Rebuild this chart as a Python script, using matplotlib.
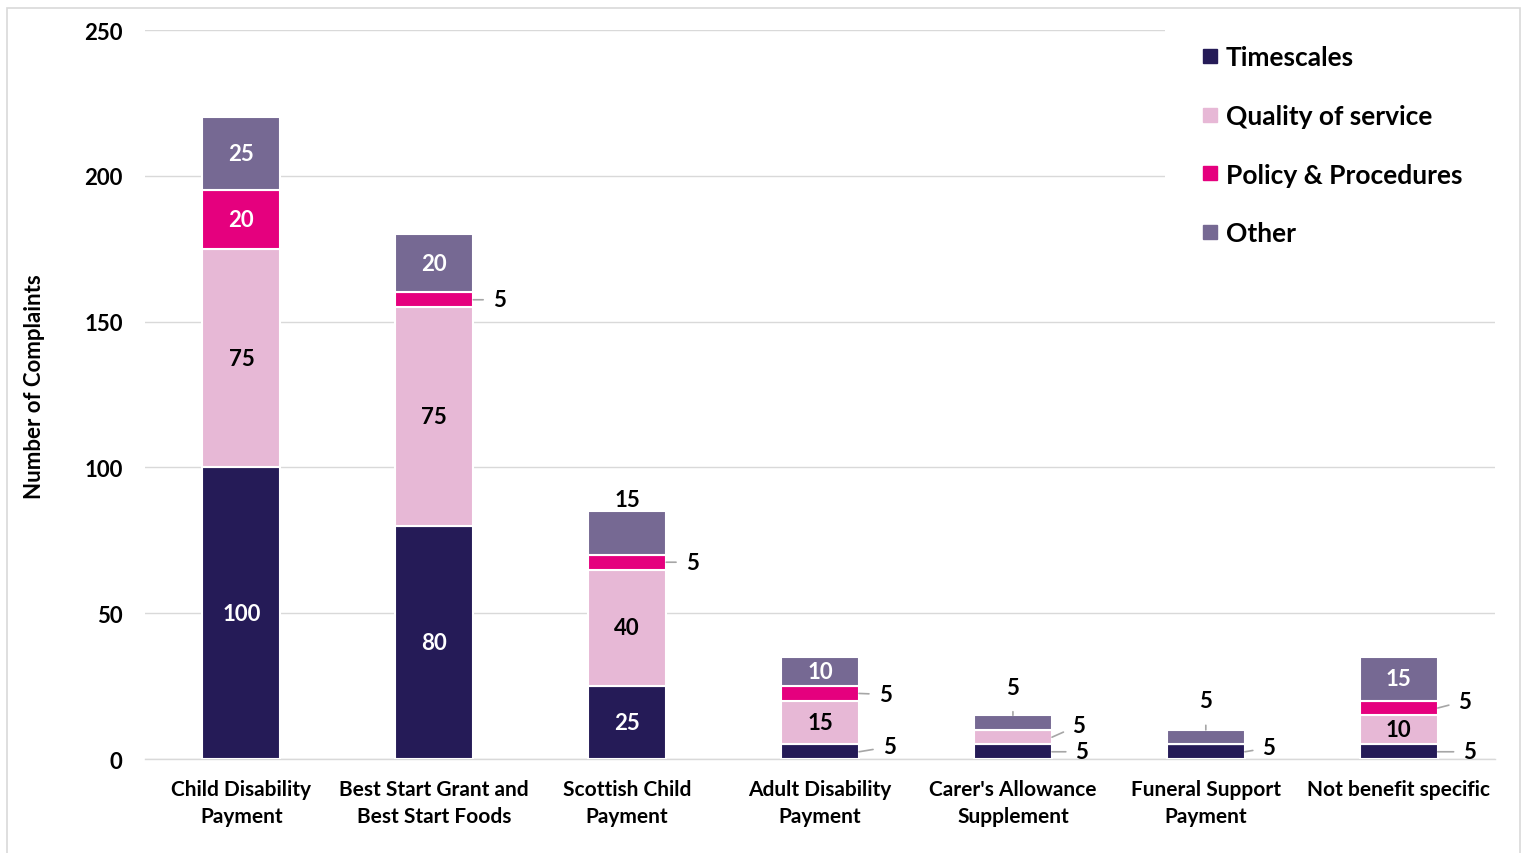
import matplotlib.pyplot as plt
from matplotlib.lines import Line2D
from matplotlib.patches import Rectangle
import numpy as np

plt.rcParams['font.family'] = ['Lato', 'DejaVu Sans']
plt.rcParams['font.weight'] = 'bold'

categories = ["Child Disability\nPayment", "Best Start Grant and\nBest Start Foods",
              "Scottish Child\nPayment", "Adult Disability\nPayment",
              "Carer's Allowance\nSupplement", "Funeral Support\nPayment",
              "Not benefit specific"]
series = ["Timescales", "Quality of service", "Policy & Procedures", "Other"]
timescales = [100, 80, 25, 5, 5, 5, 5]
quality = [75, 75, 40, 15, 5, 0, 10]
policy = [20, 5, 5, 5, 0, 0, 5]
other = [25, 20, 15, 10, 5, 5, 15]
values = [timescales, quality, policy, other]

COLORS = ["#251B57", "#E7B8D6", "#E5007E", "#766993"]
INSIDE_TEXT = ["white", "black", "white", "white"]

# labels placed outside the bar: (category, series) -> (mode, dx px, dy px)
OUTSIDE = {
    (1, 2): ("right", 26, 0),
    (2, 2): ("right", 26, 0),
    (2, 3): ("top", 0, 12),
    (3, 2): ("right", 26, -1),
    (3, 0): ("right", 30, 5),
    (4, 0): ("right", 30, 0),
    (4, 1): ("right", 27, 12),
    (4, 3): ("top", 0, 28),
    (5, 0): ("right", 24, 4),
    (5, 3): ("top", 0, 29),
    (6, 0): ("right", 32, 0),
    (6, 2): ("right", 27, 7),
}

fig = plt.figure(figsize=(15.21, 8.54), dpi=100)
ax = fig.add_axes([0.0953, 0.110, 0.8877, 0.8537])

x = np.arange(len(categories))
width = 0.405
bottom = np.zeros(len(categories))
for s, vals in enumerate(values):
    vals = np.array(vals, dtype=float)
    ax.bar(x, vals, width, bottom=bottom, color=COLORS[s], edgecolor="white",
           linewidth=1.5, zorder=3, label=series[s])
    for i, v in enumerate(vals):
        if v <= 0:
            continue
        mid = bottom[i] + v / 2
        top = bottom[i] + v
        key = (i, s)
        if key in OUTSIDE:
            mode, dx, dy = OUTSIDE[key]
            if mode == "right":
                ax.annotate(f"{int(v)}", xy=(x[i] + width / 2, mid),
                            xytext=(dx * 0.72, dy * 0.72), textcoords="offset points",
                            ha="center", va="center", fontsize=16, fontweight="bold",
                            color="black", zorder=5,
                            arrowprops=dict(arrowstyle="-", color="#A6A6A6", lw=1.2,
                                            shrinkA=5, shrinkB=0))
            else:
                ax.annotate(f"{int(v)}", xy=(x[i], top),
                            xytext=(0, dy * 0.72), textcoords="offset points",
                            ha="center", va="center", fontsize=16, fontweight="bold",
                            color="black", zorder=5,
                            arrowprops=dict(arrowstyle="-", color="#A6A6A6", lw=1.2,
                                            shrinkA=8, shrinkB=0) if dy > 15 else None)
        else:
            ax.text(x[i], mid, f"{int(v)}", ha="center", va="center", fontsize=16,
                    fontweight="bold", color=INSIDE_TEXT[s], zorder=5)
    bottom += vals

ax.set_ylim(0, 250)
ax.set_xlim(-0.5, len(categories) - 0.5)
ax.set_yticks(np.arange(0, 251, 50))
ax.yaxis.grid(True, color="#D9D9D9", linewidth=1, zorder=0)
ax.set_axisbelow(True)
for sp in ["top", "right", "left"]:
    ax.spines[sp].set_visible(False)
ax.spines["bottom"].set_color("#D9D9D9")
ax.spines["bottom"].set_linewidth(1)
ax.tick_params(axis="both", length=0)
ax.tick_params(axis="y", pad=16, labelsize=16)
ax.tick_params(axis="x", pad=14, labelsize=15)
ax.set_xticks(x)
ax.set_xticklabels(categories, fontweight="bold", va="top", linespacing=1.45)
for lbl in ax.get_yticklabels():
    lbl.set_fontweight("bold")

fig.text(35 / 1521, 1 - 387 / 854, "Number of Complaints", rotation=90,
         ha="center", va="center", fontsize=16, fontweight="bold")

handles = [Line2D([0], [0], marker="s", linestyle="none", markersize=10,
                  markerfacecolor=c, markeredgecolor=c) for c in COLORS]
leg = ax.legend(handles, series, loc="upper left",
                bbox_to_anchor=((1165 - 145) / 1350, (760 - 9) / 729),
                fontsize=19, frameon=True, facecolor="white", edgecolor="none",
                framealpha=1, fancybox=False, handlelength=0.6, handletextpad=0.3,
                labelspacing=1.32, borderpad=1.4, borderaxespad=0)
for t in leg.get_texts():
    t.set_fontweight("bold")
leg.set_zorder(10)

fig.patches.append(Rectangle((7 / 1521, -0.01), 1513 / 1521, 1 - 9 / 854 + 0.01,
                             transform=fig.transFigure, fill=False,
                             edgecolor="#D9D9D9", linewidth=1.2))

fig.savefig("out.png", dpi=100)
